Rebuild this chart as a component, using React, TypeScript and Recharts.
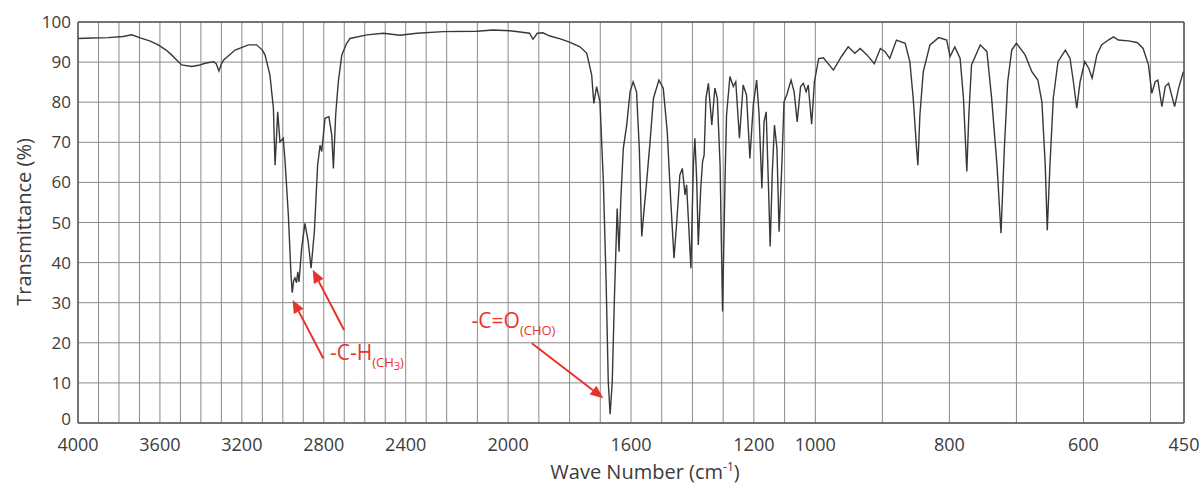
import React from "react";
import {
  LineChart,
  Line,
  XAxis,
  YAxis,
  CartesianGrid,
  ReferenceLine,
  ReferenceDot,
  Label,
} from "recharts";

// Wave numbers (cm-1), high to low
const waveNumbers = [
  4000, 3930, 3853, 3780, 3738, 3689, 3650, 3608, 3570, 3543, 3494, 3445, 3410, 3380, 3339, 3325, 3312, 3300, 3290,
  3233, 3168, 3128, 3100, 3087, 3063, 3046, 3038, 3032, 3025, 3014, 2998, 2989, 2973, 2960, 2954, 2947, 2941, 2933,
  2927, 2921, 2908, 2892, 2876, 2862, 2846, 2830, 2818, 2810, 2794, 2775, 2761, 2753, 2742, 2729, 2712, 2688, 2672,
  2590, 2509, 2428, 2346, 2217, 2101, 2049, 1994, 1961, 1930, 1919, 1905, 1887, 1864, 1830, 1800, 1766, 1744, 1728,
  1721, 1712, 1701, 1690, 1681, 1674, 1668, 1661, 1654, 1649, 1645, 1639, 1633, 1625, 1614, 1603, 1593, 1582, 1573,
  1565, 1558, 1549, 1538, 1527, 1509, 1495, 1482, 1471, 1460, 1451, 1441, 1433, 1424, 1419, 1414, 1405, 1397, 1392,
  1386, 1381, 1373, 1367, 1362, 1356, 1348, 1337, 1327, 1319, 1310, 1302, 1294, 1289, 1278, 1267, 1259, 1247, 1235,
  1224, 1213, 1202, 1191, 1183, 1174, 1167, 1160, 1153, 1147, 1140, 1133, 1125, 1118, 1109, 1102, 1093, 1079, 1069,
  1059, 1048, 1039, 1030, 1023, 1012, 1003, 995, 988, 973, 961, 951, 941, 933, 923, 912, 903, 896, 889, 879, 866, 859,
  854, 849, 847, 844, 839, 829, 816, 804, 799, 792, 784, 779, 774, 771, 767, 754, 744, 737, 729, 723, 718, 713, 707,
  700, 687, 677, 668, 662, 657, 654, 650, 645, 638, 627, 620, 615, 610, 605, 598, 592, 587, 580, 573, 563, 555, 548,
  533, 520, 511, 503, 498, 493, 489, 483, 478, 473, 464, 458, 451,
];

// Transmittance (%) at each wave number
const transmittance = [
  95.9, 96.0, 96.1, 96.4, 96.8, 95.9, 95.3, 94.3, 93.0, 91.8, 89.3, 88.9, 89.2, 89.7, 90.1, 89.6, 87.8, 89.5, 90.5,
  93.0, 94.3, 94.3, 93.0, 91.8, 86.8, 78.5, 64.3, 70.0, 77.6, 70.1, 71.0, 65.2, 51.9, 36.9, 32.5, 35.5, 36.2, 35.0,
  37.7, 35.2, 43.6, 49.8, 45.2, 38.6, 47.7, 64.3, 69.3, 67.7, 76.0, 76.4, 71.8, 63.5, 76.8, 85.1, 91.8, 94.7, 95.9,
  96.8, 97.2, 96.7, 97.2, 97.6, 97.7, 98.0, 97.8, 97.5, 97.2, 95.7, 97.2, 97.3, 96.5, 95.8, 95.0, 93.8, 92.2, 86.8,
  79.7, 83.9, 80.1, 60.2, 35.2, 10.3, 2.2, 10.3, 31.1, 43.6, 53.5, 42.7, 56.0, 68.5, 74.3, 82.6, 85.1, 82.6, 68.5,
  46.5, 52.7, 60.2, 70.1, 81.0, 85.5, 83.5, 72.6, 56.0, 41.1, 50.2, 61.8, 63.5, 56.9, 59.4, 51.9, 38.6, 64.3, 71.0,
  60.2, 44.4, 58.5, 65.2, 66.8, 81.0, 84.7, 74.3, 83.5, 81.0, 64.3, 27.8, 60.2, 76.8, 86.4, 83.9, 85.1, 71.0, 84.3,
  81.8, 66.0, 79.3, 85.5, 76.8, 58.5, 75.1, 77.6, 60.2, 44.0, 62.7, 74.3, 68.5, 47.7, 64.3, 80.1, 81.8, 85.5, 82.6,
  75.1, 83.9, 84.7, 82.6, 84.3, 74.5, 85.1, 90.9, 91.1, 88.0, 91.4, 93.8, 92.2, 93.4, 91.8, 89.6, 93.4, 92.6, 90.9, 95.5, 94.7, 90.1,
  81.0, 68.5, 64.3, 76.8, 87.6, 94.3, 96.1, 95.5, 91.4, 93.8, 90.9, 81.0, 62.7, 76.8, 89.3, 94.3, 92.6, 81.0, 64.3, 47.3, 68.5, 85.1, 93.0,
  94.7, 91.8, 87.6, 85.5, 80.1, 64.3, 48.1, 64.3, 81.0, 90.1, 93.0, 90.9, 85.1, 78.5, 85.1, 90.1, 88.4, 86.0, 91.8, 94.3, 95.5, 96.3, 95.5,
  95.3, 94.9, 93.4, 89.3, 82.2, 85.1, 85.5, 78.9, 83.9, 84.7, 78.9, 83.5, 87.6,
];

const xLabelWaves = [4000, 3600, 3200, 2800, 2400, 2000, 1600, 1200, 1000, 800, 600, 450];
const yTicks = [0, 10, 20, 30, 40, 50, 60, 70, 80, 90, 100];

// Axis breaks: the x axis is drawn in three equal-width pieces
const breaks = [4000, 2200, 1000, 450];

const gridWaves: number[] = [];
for (let w = 4000; w >= 500; w -= 100) gridWaves.push(w);
gridWaves.push(450);

function pos(w: number): number {
  for (let i = 0; i < 3; i++) {
    if (w >= breaks[i + 1] || i === 2) {
      return i + (breaks[i] - w) / (breaks[i] - breaks[i + 1]);
    }
  }
  return 3;
}
function invPos(p: number): number {
  const i = Math.min(2, Math.max(0, Math.floor(p)));
  return breaks[i] - (p - i) * (breaks[i] - breaks[i + 1]);
}

const chartData = waveNumbers.map((w, i) => ({ x: pos(w), t: transmittance[i] }));

const FONT = "'Open Sans', 'Liberation Sans', sans-serif";
const TEXT = "#3c3c3c";
const RED = "#e8332a";
const GRID = "#8a8a8a";
const AXIS = "#5a5a5a";

const XTick = (props: any) => {
  const { x, y, payload } = props;
  const w = Math.round(invPos(payload.value));
  if (!xLabelWaves.includes(w)) return <g />;
  return (
    <text x={x} y={y + 28} textAnchor="middle" fontSize={18} fill={TEXT} fontFamily={FONT}>
      {w}
    </text>
  );
};

const YTick = (props: any) => {
  const { x, y, payload } = props;
  const shift = payload.value === 0 ? 2 : 6;
  return (
    <text x={x - 1} y={y + shift} textAnchor="end" fontSize={17} fill={TEXT} fontFamily={FONT}>
      {payload.value}
    </text>
  );
};

const Arrow = (props: any) => {
  const { x1, y1, x2, y2 } = props;
  const dx = x2 - x1;
  const dy = y2 - y1;
  const len = Math.sqrt(dx * dx + dy * dy);
  const ux = dx / len;
  const uy = dy / len;
  const hl = 13;
  const hw = 5.5;
  const bx = x2 - ux * hl;
  const by = y2 - uy * hl;
  const pts = `${x2},${y2} ${bx - uy * hw},${by + ux * hw} ${bx + uy * hw},${by - ux * hw}`;
  return (
    <g>
      <line x1={x1} y1={y1} x2={bx} y2={by} stroke={RED} strokeWidth={2} />
      <polygon points={pts} fill={RED} />
    </g>
  );
};

const CHText = (props: any) => {
  const { cx, cy } = props;
  return (
    <text x={cx} y={cy} fill={RED} fontSize={21} fontFamily={FONT}>
      -C-H
      <tspan fontSize={13} dy={7}>
        (CH
        <tspan fontSize={11} dy={3}>
          3
        </tspan>
        <tspan fontSize={13} dy={-3}>
          )
        </tspan>
      </tspan>
    </text>
  );
};

const COText = (props: any) => {
  const { cx, cy } = props;
  return (
    <text x={cx} y={cy} fill={RED} fontSize={21} fontFamily={FONT}>
      -C=O
      <tspan fontSize={13} dy={7}>
        (CHO)
      </tspan>
    </text>
  );
};

export default function App() {
  return (
    <div style={{ width: 1203, height: 485, background: "#fff" }}>
      <style>{`body{margin:0;background:#fff;}`}</style>
      <LineChart
        width={1203}
        height={485}
        data={chartData}
        margin={{ top: 22, right: 19, bottom: 22, left: 0 }}
      >
        <CartesianGrid stroke={GRID} strokeWidth={1} />
        <XAxis
          type="number"
          dataKey="x"
          domain={[0, 3]}
          ticks={gridWaves.map(pos)}
          interval={0}
          height={40}
          tickLine={false}
          tickSize={0}
          tickMargin={0}
          axisLine={{ stroke: AXIS, strokeWidth: 1.5 }}
          tick={<XTick />}
        >
          <Label
            content={(p: any) => {
              const vb = p.viewBox || { x: 78, y: 423, width: 1106 };
              return (
                <text x={vb.x + 567} y={vb.y + 56} textAnchor="middle" fontSize={20} fill={TEXT} fontFamily={FONT}>
                  Wave Number (cm
                  <tspan fontSize={12} dy={-8}>
                    -1
                  </tspan>
                  <tspan fontSize={20} dy={8}>
                    )
                  </tspan>
                </text>
              );
            }}
          />
        </XAxis>
        <YAxis
          type="number"
          domain={[0, 100]}
          ticks={yTicks}
          interval={0}
          width={78}
          tickLine={false}
          tickSize={0}
          tickMargin={6}
          axisLine={{ stroke: AXIS, strokeWidth: 1.5 }}
          tick={<YTick />}
        >
          <Label
            content={() => (
              <text
                x={31}
                y={222}
                transform="rotate(-90 31 222)"
                textAnchor="middle"
                fontSize={20}
                fill={TEXT}
                fontFamily={FONT}
              >
                Transmittance (%)
              </text>
            )}
          />
        </YAxis>
        <ReferenceLine y={100} stroke={AXIS} strokeWidth={1.5} />
        <ReferenceLine x={3} stroke={AXIS} strokeWidth={1.5} />
        <Line
          type="linear"
          dataKey="t"
          stroke="#383838"
          strokeWidth={1.4}
          dot={false}
          isAnimationActive={false}
        />
        <ReferenceLine segment={[{ x: pos(2802), y: 16.1 }, { x: pos(2952), y: 30.7 }]} shape={<Arrow />} />
        <ReferenceLine segment={[{ x: pos(2701), y: 23.2 }, { x: pos(2854), y: 38.2 }]} shape={<Arrow />} />
        <ReferenceLine segment={[{ x: pos(1923), y: 19.9 }, { x: pos(1690), y: 6.2 }]} shape={<Arrow />} />
        <ReferenceDot x={pos(2770)} y={15.7} r={0} shape={<CHText />} />
        <ReferenceDot x={pos(2119)} y={23.7} r={0} shape={<COText />} />
      </LineChart>
    </div>
  );
}
